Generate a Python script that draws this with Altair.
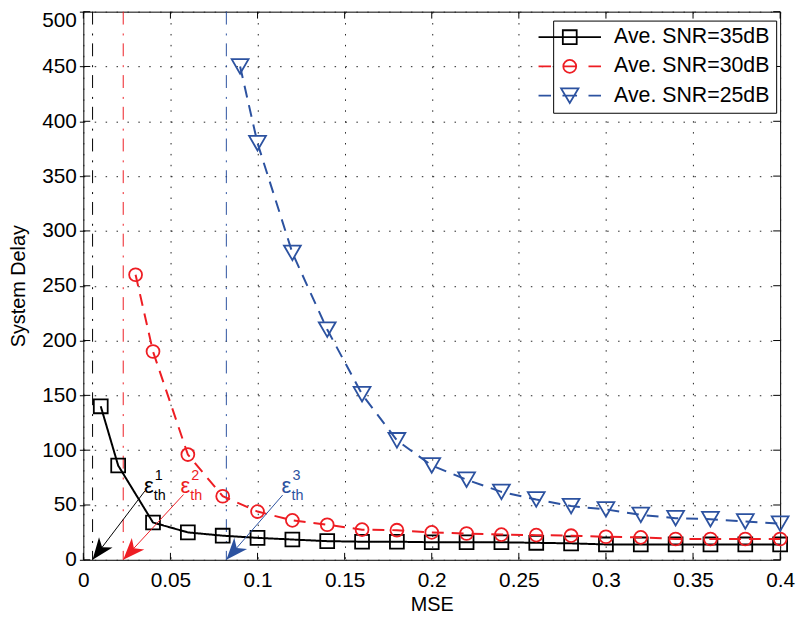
import math
import altair as alt
import pandas as pd

# ---------------- data ----------------
series_names = ["Ave. SNR=35dB", "Ave. SNR=30dB", "Ave. SNR=25dB"]
series_colors = ["#000000", "#EE1D23", "#2C52A0"]

mse_35 = [0.01, 0.02, 0.04, 0.06, 0.08, 0.10, 0.12, 0.14, 0.16, 0.18, 0.20,
          0.22, 0.24, 0.26, 0.28, 0.30, 0.32, 0.34, 0.36, 0.38, 0.40]
delay_35 = [140, 86, 34, 25, 22, 20, 18.5, 17, 16.5, 16.5, 16, 16, 16, 15.5,
            15, 14, 14, 14, 14, 14, 14]

mse_30 = [0.03, 0.04, 0.06, 0.08, 0.10, 0.12, 0.14, 0.16, 0.18, 0.20, 0.22,
          0.24, 0.26, 0.28, 0.30, 0.32, 0.34, 0.36, 0.38, 0.40]
delay_30 = [260, 190, 96, 58, 44, 36, 32, 27.5, 27, 25, 24, 23, 22.5, 22, 21,
            20.5, 19, 19, 19, 19]

mse_25 = [0.09, 0.10, 0.12, 0.14, 0.16, 0.18, 0.20, 0.22, 0.24, 0.26, 0.28,
          0.30, 0.32, 0.34, 0.36, 0.38, 0.40]
delay_25 = [450, 380, 280, 210, 151, 109, 86, 73, 62, 55, 49, 46, 41, 38, 37,
            35, 33]

# thresholds epsilon_th^i (vertical lines and arrow tips)
eps_threshold = [0.0053, 0.0229, 0.0821]
arrow_tail_x = [0.0353, 0.0575, 0.1144]
arrow_tail_y = [62.7, 59.5, 59.0]
eps_label_x = [0.0376, 0.0586, 0.1166]
eps_label_y = [67, 67, 67]
eps_sup = ["1", "2", "3"]

x_ticks = [0, 0.05, 0.1, 0.15, 0.2, 0.25, 0.3, 0.35, 0.4]
y_ticks = [0, 50, 100, 150, 200, 250, 300, 350, 400, 450, 500]

# ---------------- layout / style ----------------
W, H = 703, 553
X_MAX, Y_MAX = 0.4, 500
FONT = "Liberation Sans"

series_x = [mse_35, mse_30, mse_25]
series_y = [delay_35, delay_30, delay_25]
rows = []
for name, xs, ys in zip(series_names, series_x, series_y):
    for a, b in zip(xs, ys):
        rows.append({"series": name, "mse": a, "delay": b})
df = pd.DataFrame(rows)

xt_df = pd.DataFrame({"t": x_ticks})
yt_df = pd.DataFrame({"t": y_ticks})

xscale = alt.Scale(domain=[0, X_MAX], nice=False, zero=False)
yscale = alt.Scale(domain=[0, Y_MAX], nice=False, zero=False)
cscale = alt.Scale(domain=series_names, range=series_colors)

xaxis = alt.Axis(values=x_ticks, format=".2~f", title="MSE", grid=True,
                 gridDash=[1.5, 9.5], gridColor="#222222", gridOpacity=1,
                 ticks=False, tickSize=0, domain=False, labelFontSize=21,
                 labelPadding=10, labelFlush=False, labelOverlap=False,
                 labelColor="black", titleFontSize=20, titleFontWeight="normal",
                 titleColor="black", titlePadding=4)
yaxis = alt.Axis(values=y_ticks, title="System Delay", grid=True,
                 gridDash=[1.5, 9.5], gridColor="#222222", gridOpacity=1,
                 ticks=True, tickSize=4, tickColor="black", domain=False,
                 labelFontSize=21, labelPadding=3, labelColor="black",
                 labelFlush=False, labelOverlap=False,
                 labelOffset={"condition": {"test": "datum.value == 500", "value": 9},
                              "value": 0},
                 titleFontSize=20, titleFontWeight="normal",
                 titleColor="black", titlePadding=13)


def X(field):
    return alt.X(field, type="quantitative", scale=xscale, axis=xaxis)


def Y(field):
    return alt.Y(field, type="quantitative", scale=yscale, axis=yaxis)


# legend symbols: line segment(s) + marker, unit = sqrt(size)/2 = 7px
leg_paths = [
    "M-5.1,0M-4.5,0L4.5,0M-1,-1L1,-1L1,1L-1,1Z",
    "M-5.1,0M-4.5,0L-2.7,0M2.7,0L4.5,0M-0.93,0L0.93,0"
    "M0.93,0A0.93,0.93,0,1,1,-0.93,0A0.93,0.93,0,1,1,0.93,0Z",
    "M-5.1,0M-4.5,0L-2.7,0M2.7,0L4.5,0M-1.05,0L1.05,0"
    "M-1.25,-1.05L1.25,-1.05L0,1.05Z",
]
legend = alt.Legend(title=None, orient="none", legendX=474, legendY=9,
                    symbolSize=196, symbolStrokeWidth=1.8, symbolOpacity=1,
                    labelFontSize=21.5, labelColor="black", labelOffset=34,
                    rowPadding=6.5, padding=6, strokeColor="black",
                    fillColor="white")

base = alt.Chart(df)
layers = [base.mark_point(opacity=0).encode(x=X("mse"), y=Y("delay"))]

# inside tick marks on all four sides
layers += [
    alt.Chart(xt_df).mark_rule(color="black", strokeWidth=1).encode(
        x=X("t"), y=alt.value(H), y2=alt.value(H - 7)),
    alt.Chart(xt_df).mark_rule(color="black", strokeWidth=1).encode(
        x=X("t"), y=alt.value(0), y2=alt.value(7)),
    alt.Chart(yt_df).mark_rule(color="black", strokeWidth=1).encode(
        y=Y("t"), x=alt.value(0), x2=alt.value(7)),
    alt.Chart(yt_df).mark_rule(color="black", strokeWidth=1).encode(
        y=Y("t"), x=alt.value(W), x2=alt.value(W - 7)),
]

shapes = ["square", "circle", "triangle-down"]
sizes = [196, 169, 289]
dashes = [[1, 0], [12, 8], [12, 8]]

for i, name in enumerate(series_names):
    col = series_colors[i]
    thr_df = pd.DataFrame({"mse": [eps_threshold[i]]})
    layers.append(alt.Chart(thr_df).mark_rule(
        strokeWidth=1, strokeDash=[13, 9, 2, 8], color=col).encode(x=X("mse")))

for i, name in enumerate(series_names):
    col = series_colors[i]
    sdf = pd.DataFrame({"mse": series_x[i], "delay": series_y[i]})
    layers.append(alt.Chart(sdf).mark_line(
        strokeWidth=2, color=col, strokeDash=dashes[i]).encode(
        x=X("mse"), y=Y("delay")))
    layers.append(alt.Chart(sdf).mark_point(
        shape=shapes[i], size=sizes[i], filled=False, strokeWidth=1.8,
        opacity=1, color=col).encode(x=X("mse"), y=Y("delay")))

for i, name in enumerate(series_names):
    col = series_colors[i]
    tx, ty, hx = arrow_tail_x[i], arrow_tail_y[i], eps_threshold[i]
    dxp = (hx - tx) / X_MAX * W
    dyp = ty / Y_MAX * H
    ang = math.degrees(math.atan2(dxp, -dyp)) % 360
    adf = pd.DataFrame({"x0": [tx], "y0": [ty], "x1": [hx], "y1": [0.0],
                        "angle": [ang]})
    layers.append(alt.Chart(adf).mark_rule(strokeWidth=1, color=col).encode(
        x=X("x0"), y=Y("y0"), x2="x1", y2="y1"))
    layers.append(alt.Chart(adf).mark_point(
        shape="M0,0L0.7,1.8L0,1.3L-0.7,1.8Z", size=600, filled=True,
        opacity=1, color=col, strokeWidth=0.5).encode(
        x=X("x1"), y=Y("y1"), angle=alt.Angle("angle:Q", scale=None)))

    ldf = pd.DataFrame({"x": [eps_label_x[i]], "y": [eps_label_y[i]],
                        "eps": ["\u03b5"], "sup": [eps_sup[i]], "sub": ["th"]})
    layers.append(alt.Chart(ldf).mark_text(
        fontSize=22, align="center", baseline="middle", color=col).encode(
        x=X("x"), y=Y("y"), text="eps:N"))
    layers.append(alt.Chart(ldf).mark_text(
        fontSize=14.5, align="left", baseline="middle", dx=6, dy=-10,
        color=col).encode(x=X("x"), y=Y("y"), text="sup:N"))
    layers.append(alt.Chart(ldf).mark_text(
        fontSize=14.5, align="left", baseline="middle", dx=5, dy=10,
        color=col).encode(x=X("x"), y=Y("y"), text="sub:N"))

# legend-driving layer (invisible marks, visible legend)
layers.append(base.mark_point(opacity=0, filled=False).encode(
    x=X("mse"), y=Y("delay"),
    color=alt.Color("series:N", scale=cscale, legend=legend),
    shape=alt.Shape("series:N",
                    scale=alt.Scale(domain=series_names, range=leg_paths),
                    legend=legend)))

chart = alt.layer(*layers).properties(
    width=W, height=H,
    padding={"left": 76, "top": 1, "right": 16, "bottom": 54},
    autosize=alt.AutoSizeParams(type="none"),
).configure(font=FONT).configure_view(stroke="black", strokeWidth=1)

chart.save("out.html", embed_options={"renderer": "svg", "actions": False})
